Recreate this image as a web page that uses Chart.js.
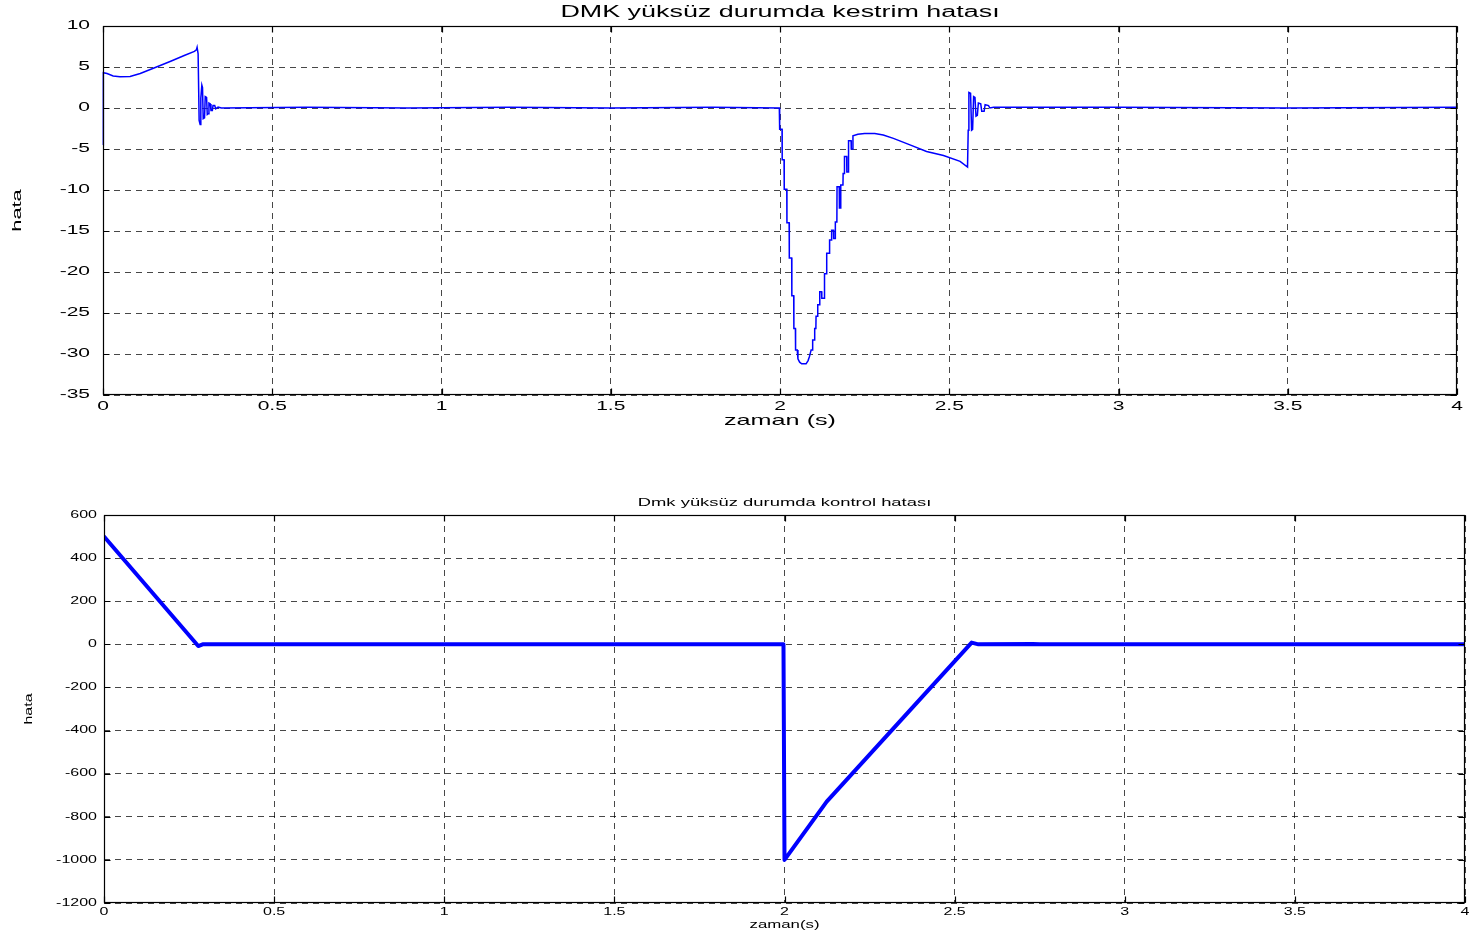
<!DOCTYPE html>
<html><head><meta charset="utf-8">
<script src="https://cdn.jsdelivr.net/npm/chart.js@4.4.0/dist/chart.umd.min.js"></script>
<style>
html,body{margin:0;padding:0;background:#fff;}
#wrap{position:relative;width:1469px;height:938px;}
canvas{position:absolute;left:0;}
</style></head><body>
<div id="wrap">
<canvas id="est" width="1469" height="455" style="top:0"></canvas>
<canvas id="ctrl" width="1469" height="483" style="top:455px"></canvas>
</div>
<script>
// top plot: estimation error (kestrim hatası)
const estTime=[0,0.001,0.012,0.03,0.05,0.08,0.11,0.158,0.2,0.24,0.27,0.276,0.278,0.281,0.284,0.287,0.289,0.292,0.294,0.296,0.3,0.302,0.306,0.308,0.311,0.313,0.317,0.319,0.323,0.325,0.33,0.333,0.34,0.35,0.6,0.9,1.2,1.5,1.8,
 1.998,1.999,2.006,2.0065,2.012,2.0125,2.02,2.0205,2.027,2.0275,2.0345,2.035,2.0405,2.041,2.0455,2.046,2.051,2.053,2.058,2.064,2.077,2.083,2.087,2.092,2.096,2.0965,2.102,2.1025,2.106,2.1065,2.111,2.1115,2.117,2.1175,2.123,2.1235,2.131,2.1315,2.1375,2.138,2.146,2.1465,2.152,2.1525,2.158,2.1585,2.163,2.1635,2.168,2.1685,2.175,2.1755,2.179,2.1795,2.186,2.1865,2.19,2.1905,2.197,2.1975,2.202,2.2025,2.21,2.2105,2.215,2.2155,2.23,2.25,2.28,2.305,2.335,2.384,2.433,2.483,2.532,2.554,
 2.556,2.558,2.563,2.566,2.569,2.572,2.576,2.579,2.583,2.586,2.593,2.596,2.603,2.606,2.616,2.62,2.631,3.0,3.5,4.0];
const estErr=[-4.5,4.3,4.2,3.9,3.8,3.85,4.2,5.0,5.7,6.4,6.9,7.1,7.4,6.6,-1.5,-2.0,1.2,2.8,2.5,-1.3,-1.2,1.4,1.3,-0.8,-0.7,0.6,0.5,-0.3,-0.3,0.3,0.3,-0.1,0.1,0,0.1,0,0.1,0,0.1,
 0,-2.6,-2.6,-6.3,-6.3,-9.9,-9.9,-14.0,-14.0,-18.3,-18.3,-22.9,-22.9,-26.9,-26.9,-29.5,-29.5,-30.6,-31.0,-31.2,-31.2,-30.8,-30.3,-29.5,-29.5,-28.3,-28.3,-26.9,-26.9,-25.4,-25.4,-24.0,-24.0,-22.4,-22.4,-23.2,-23.2,-20.2,-20.2,-17.7,-17.7,-16.1,-16.1,-14.9,-14.9,-15.9,-15.9,-13.9,-13.9,-9.6,-9.6,-12.2,-12.2,-9.4,-9.4,-8.0,-8.0,-5.9,-5.9,-7.8,-7.8,-4.0,-4.0,-5.0,-5.0,-3.4,-3.2,-3.1,-3.1,-3.3,-3.7,-4.5,-5.3,-5.8,-6.5,-7.2,
 -2.7,1.9,1.8,-2.7,-2.6,1.4,1.3,-1.0,-0.9,0.6,0.5,-0.4,-0.4,0.4,0.3,0,0.1,0.1,0,0.1];
const estTicks=[-35,-30,-25,-20,-15,-10,-5,0,5,10];

// bottom plot: control error (kontrol hatası)
const ctrlTime=[0,0.277,0.29,1.997,2.0,2.124,2.55,2.57,2.73,2.75,4.0];
const ctrlErr=[500,-8,0,0,-1000,-730,8,0,2,0,0];
const ctrlTicks=[-1200,-1000,-800,-600,-400,-200,0,200,400,600];

const timeTicks=[0,0.5,1,1.5,2,2.5,3,3.5,4];

const FONT="'Liberation Sans', Arial, sans-serif";
const GRID='rgba(0,0,0,0.72)';

// matlab-style wide lettering: stretch text horizontally around its anchor
function stretchText(canvas,sx){
  const ctx=canvas.getContext('2d');
  const fill=ctx.fillText.bind(ctx);
  ctx.fillText=function(t,x,y,w){
    ctx.save();ctx.translate(x,y);ctx.scale(sx,1);
    if(w===undefined)fill(t,0,0);else fill(t,0,0,w/sx);
    ctx.restore();
  };
  return ctx;
}

// axes box + inward tick marks
const boxPlugin={id:'box',afterDraw(c){
  const {ctx,chartArea:a,scales:{x,y}}=c;
  const l=Math.round(a.left)+0.5,r=Math.round(a.right)-0.5,t=Math.round(a.top)+0.5,b=Math.round(a.bottom)-0.5;
  ctx.save();ctx.setLineDash([]);ctx.strokeStyle='#000';ctx.lineWidth=1.2;
  ctx.strokeRect(l,t,r-l,b-t);
  ctx.beginPath();
  x.ticks.forEach(tk=>{const p=Math.round(x.getPixelForValue(tk.value))+0.5;ctx.moveTo(p,b);ctx.lineTo(p,b-6);ctx.moveTo(p,t);ctx.lineTo(p,t+6);});
  y.ticks.forEach(tk=>{const p=Math.round(y.getPixelForValue(tk.value))+0.5;ctx.moveTo(l,p);ctx.lineTo(l+6,p);ctx.moveTo(r,p);ctx.lineTo(r-6,p);});
  ctx.stroke();ctx.restore();
}};

// title lives on an empty top axis so it is centred over the plot box, like matlab
function axes(o){
  return {
    x:{type:'linear',min:0,max:4,
      afterBuildTicks:s=>{s.ticks=timeTicks.map(v=>({value:v}));},
      afterFit:s=>{s.height=o.xh;s.paddingLeft=0;s.paddingRight=0;},
      ticks:{autoSkip:false,maxRotation:0,padding:o.xtp,color:'#000',font:{family:FONT,size:o.tick},callback:v=>String(v)},
      grid:{color:GRID,lineWidth:1,drawTicks:false},border:{display:false,dash:[6,5]},
      title:{display:true,text:o.xt,color:'#000',font:{family:FONT,size:o.xts},padding:{top:0,bottom:o.xtb}}},
    top:{type:'linear',position:'top',min:0,max:4,
      afterFit:s=>{s.height=o.th;s.paddingLeft=0;s.paddingRight=0;},
      ticks:{display:false},grid:{display:false},border:{display:false},
      title:{display:true,text:o.title,color:'#000',font:{family:FONT,size:o.ts},padding:{top:o.tp,bottom:0}}},
    y:{min:o.ymin,max:o.ymax,
      afterBuildTicks:s=>{s.ticks=o.yticks.map(v=>({value:v}));},
      afterFit:s=>{s.width=o.yw;s.paddingTop=0;s.paddingBottom=0;},
      ticks:{padding:o.ytp,color:'#000',font:{family:FONT,size:o.tick},callback:v=>String(v)},
      grid:{color:GRID,lineWidth:1,drawTicks:false},border:{display:false,dash:[6,5]},
      title:{display:true,text:'hata',color:'#000',font:{family:FONT,size:o.yts},padding:{top:o.ytt,bottom:0}}}
  };
}

new Chart(stretchText(document.getElementById('est'),1.68),{
  type:'line',
  data:{datasets:[{data:estTime.map((t,i)=>({x:t,y:estErr[i]})),borderColor:'#0000ff',borderWidth:1.5,pointRadius:0,tension:0,clip:6}]},
  options:{responsive:false,animation:false,
    layout:{padding:{left:0,right:12,top:0,bottom:0}},
    plugins:{legend:{display:false},tooltip:{enabled:false}},
    scales:axes({title:'DMK yüksüz durumda kestrim hatası',ts:16,tp:3,th:26,
      xh:60,xtp:4,tick:12.5,xt:'zaman (s)',xts:15,xtb:25,ymin:-35,ymax:10,yticks:estTicks,yw:103,ytp:13,yts:13,ytt:10})
  },
  plugins:[boxPlugin]
});

new Chart(stretchText(document.getElementById('ctrl'),1.6),{
  type:'line',
  data:{datasets:[{data:ctrlTime.map((t,i)=>({x:t,y:ctrlErr[i]})),borderColor:'#0000ff',borderWidth:4,pointRadius:0,tension:0,borderJoinStyle:'round',borderCapStyle:'round'}]},
  options:{responsive:false,animation:false,
    layout:{padding:{left:0,right:4,top:0,bottom:0}},
    plugins:{legend:{display:false},tooltip:{enabled:false}},
    scales:axes({title:'Dmk yüksüz durumda kontrol hatası',ts:11.5,tp:41,th:60,
      xh:35,xtp:3,tick:10,xt:'zaman(s)',xts:10.5,xtb:6.7,ymin:-1200,ymax:600,yticks:ctrlTicks,yw:104,ytp:7,yts:10,ytt:23})
  },
  plugins:[boxPlugin]
});
</script>
</body></html>
